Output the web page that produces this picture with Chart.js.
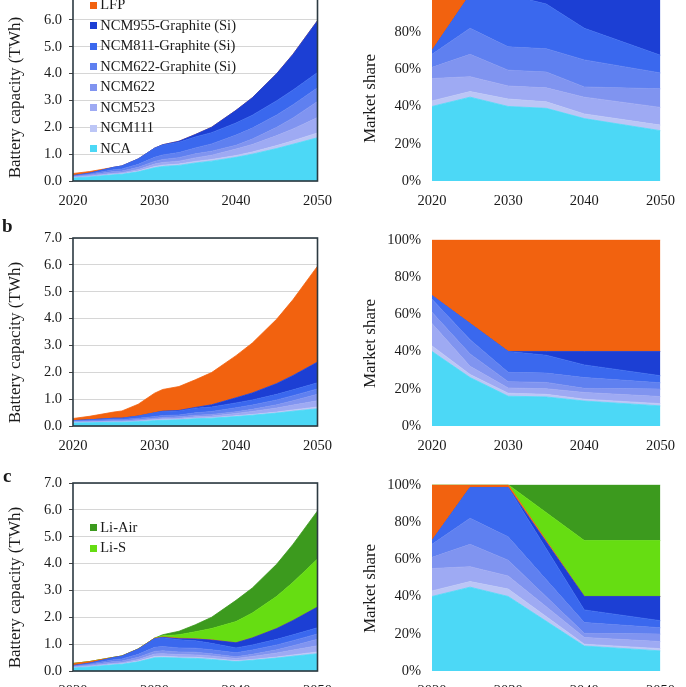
<!DOCTYPE html>
<html>
<head>
<meta charset="utf-8">
<script src="https://cdn.jsdelivr.net/npm/chart.js@4.4.1/dist/chart.umd.min.js"></script>
<style>
  body { margin: 0; background: #fff; }
  #fig { position: relative; width: 686px; height: 687px; overflow: hidden; font-family: "Liberation Serif", serif; }
  #fig canvas { position: absolute; }
  .tag { position: absolute; font-weight: bold; font-size: 19px; line-height: 1; color: #1a1a1a; }
</style>
</head>
<body>
<div id="fig">
  <canvas id="capA" width="343" height="244" style="left:0;top:-25px"></canvas>
  <canvas id="shareA" width="343" height="244" style="left:343px;top:-25px"></canvas>
  <canvas id="capB" width="343" height="244" style="left:0;top:220px"></canvas>
  <canvas id="shareB" width="343" height="244" style="left:343px;top:220px"></canvas>
  <canvas id="capC" width="343" height="244" style="left:0;top:465px"></canvas>
  <canvas id="shareC" width="343" height="244" style="left:343px;top:465px"></canvas>
  <div class="tag" style="left:2px;top:216px">b</div>
  <div class="tag" style="left:3px;top:466px">c</div>
</div>
<script>
// series names, bottom of the stack first
const chemistries = ['NCA', 'NCM111', 'NCM523', 'NCM622', 'NCM622-Graphite (Si)',
  'NCM811-Graphite (Si)', 'NCM955-Graphite (Si)', 'LFP', 'Li-S', 'Li-Air'];
const colors = ['#4cd8f6', '#bcc6f6', '#9eaaf3', '#8094f0', '#5f80f0',
  '#3a68ee', '#1c3fd4', '#f2620f', '#66dd12', '#3c9a1e'];

// battery capacity (TWh), left column
const years = [2020, 2022, 2025, 2026, 2028, 2030, 2031, 2033, 2035, 2037, 2040, 2042, 2045, 2047, 2050];

const capA_NCA    = [0.11, 0.15, 0.23, 0.25, 0.34, 0.49, 0.54, 0.58, 0.67, 0.74, 0.88, 1.00, 1.21, 1.37, 1.61];
const capA_NCM111 = [0.01, 0.01, 0.02, 0.02, 0.03, 0.05, 0.05, 0.05, 0.06, 0.06, 0.07, 0.08, 0.11, 0.13, 0.18];
const capA_NCM523 = [0.03, 0.04, 0.04, 0.04, 0.06, 0.09, 0.10, 0.11, 0.13, 0.16, 0.24, 0.28, 0.37, 0.44, 0.57];
const capA_NCM622 = [0.02, 0.03, 0.06, 0.06, 0.08, 0.10, 0.11, 0.13, 0.15, 0.15, 0.14, 0.20, 0.31, 0.41, 0.60];
const capA_G622   = [0.02, 0.03, 0.07, 0.08, 0.11, 0.15, 0.17, 0.19, 0.22, 0.27, 0.38, 0.41, 0.46, 0.49, 0.51];
const capA_G811   = [0.01, 0.03, 0.09, 0.11, 0.20, 0.34, 0.37, 0.38, 0.41, 0.42, 0.45, 0.48, 0.53, 0.55, 0.57];
const capA_G955   = [0, 0, 0, 0, 0, 0, 0.01, 0.04, 0.09, 0.20, 0.47, 0.65, 1.01, 1.33, 1.93];
const capA_LFP    = [0.08, 0.06, 0, 0, 0, 0, 0, 0, 0, 0, 0, 0, 0, 0, 0];

const capB_NCA    = [0.11, 0.12, 0.14, 0.14, 0.16, 0.20, 0.21, 0.23, 0.27, 0.29, 0.35, 0.40, 0.48, 0.55, 0.64];
const capB_NCM111 = [0.01, 0.01, 0.01, 0.01, 0.01, 0.02, 0.02, 0.02, 0.02, 0.02, 0.03, 0.03, 0.04, 0.05, 0.07];
const capB_NCM523 = [0.03, 0.03, 0.02, 0.02, 0.03, 0.03, 0.04, 0.04, 0.05, 0.06, 0.09, 0.11, 0.15, 0.18, 0.23];
const capB_NCM622 = [0.02, 0.02, 0.03, 0.03, 0.04, 0.04, 0.05, 0.05, 0.06, 0.06, 0.06, 0.08, 0.12, 0.16, 0.24];
const capB_G622   = [0.02, 0.03, 0.04, 0.04, 0.05, 0.06, 0.07, 0.07, 0.09, 0.11, 0.15, 0.16, 0.18, 0.19, 0.20];
const capB_G811   = [0.01, 0.02, 0.05, 0.05, 0.08, 0.14, 0.15, 0.15, 0.17, 0.17, 0.18, 0.19, 0.21, 0.22, 0.23];
const capB_G955   = [0, 0, 0, 0, 0, 0, 0.01, 0.02, 0.03, 0.08, 0.19, 0.26, 0.40, 0.53, 0.77];
const capB_LFP    = [0.08, 0.13, 0.23, 0.27, 0.44, 0.73, 0.81, 0.89, 1.03, 1.20, 1.57, 1.86, 2.40, 2.83, 3.57];

const capC_NCA    = [0.11, 0.15, 0.23, 0.25, 0.34, 0.49, 0.50, 0.48, 0.47, 0.43, 0.35, 0.40, 0.48, 0.55, 0.64];
const capC_NCM111 = [0.01, 0.01, 0.02, 0.02, 0.03, 0.05, 0.05, 0.04, 0.04, 0.04, 0.03, 0.03, 0.04, 0.05, 0.07];
const capC_NCM523 = [0.03, 0.04, 0.04, 0.04, 0.06, 0.09, 0.09, 0.09, 0.09, 0.09, 0.09, 0.11, 0.15, 0.18, 0.23];
const capC_NCM622 = [0.02, 0.03, 0.06, 0.06, 0.08, 0.10, 0.11, 0.10, 0.10, 0.08, 0.06, 0.08, 0.12, 0.16, 0.24];
const capC_G622   = [0.02, 0.03, 0.07, 0.08, 0.11, 0.15, 0.16, 0.15, 0.15, 0.15, 0.15, 0.16, 0.18, 0.19, 0.20];
const capC_G811   = [0.01, 0.03, 0.08, 0.10, 0.19, 0.32, 0.33, 0.30, 0.28, 0.24, 0.18, 0.19, 0.21, 0.22, 0.23];
const capC_G955   = [0, 0, 0, 0, 0, 0, 0.01, 0.04, 0.06, 0.12, 0.19, 0.26, 0.40, 0.53, 0.77];
const capC_LFP    = [0.08, 0.06, 0.01, 0.01, 0.01, 0.02, 0.02, 0.02, 0.01, 0.01, 0, 0, 0, 0, 0];
const capC_LiS    = [0, 0, 0, 0, 0, 0, 0.04, 0.13, 0.26, 0.42, 0.79, 0.93, 1.20, 1.42, 1.79];
const capC_LiAir  = [0, 0, 0, 0, 0, 0, 0.04, 0.13, 0.26, 0.42, 0.79, 0.93, 1.20, 1.42, 1.79];

// market share (%), right column
const shareYears = [2020, 2025, 2030, 2035, 2040, 2050];
const shareA_NCA    = [40, 45, 40, 39, 33.5, 27];
const shareA_NCM111 = [3, 3, 4, 3.5, 2.5, 3];
const shareA_NCM523 = [12, 8, 7, 7.5, 9, 9.5];
const shareA_NCM622 = [6, 12, 8.5, 8.5, 5.5, 10];
const shareA_G622   = [7, 14, 12.5, 12.5, 14.5, 8.5];
const shareA_G811   = [2, 18, 28, 24, 17, 9.5];
const shareA_G955   = [0, 0, 0, 5, 18, 32.5];
const shareA_LFP    = [30, 0, 0, 0, 0, 0];

const shareB_NCA    = [40, 26, 16, 15.6, 13.4, 10.8];
const shareB_NCM111 = [3, 1.65, 1.6, 1.4, 1, 1.2];
const shareB_NCM523 = [12, 4.4, 2.8, 3, 3.6, 3.8];
const shareB_NCM622 = [6, 6.6, 3.4, 3.4, 2.2, 4];
const shareB_G622   = [7, 7.7, 5, 5, 5.8, 3.4];
const shareB_G811   = [2, 8.65, 11.2, 9.6, 6.8, 3.8];
const shareB_G955   = [0, 0, 0, 2, 7.2, 13];
const shareB_LFP    = [30, 45, 60, 60, 60, 60];

const shareYearsC = [2020, 2025, 2030, 2040, 2050];
const shareC_NCA    = [40, 45, 40, 13.4, 10.8];
const shareC_NCM111 = [3, 3, 4, 1, 1.2];
const shareC_NCM523 = [12, 8, 7, 3.6, 3.8];
const shareC_NCM622 = [6, 12, 8.5, 2.2, 4];
const shareC_G622   = [7, 14, 12.5, 5.8, 3.4];
const shareC_G811   = [2, 16.5, 26.5, 6.8, 3.8];
const shareC_G955   = [0, 0, 0, 7.2, 13];
const shareC_LFP    = [30, 1.5, 1.5, 0, 0];
const shareC_LiS    = [0, 0, 0, 30, 30];
const shareC_LiAir  = [0, 0, 0, 30, 30];

Chart.defaults.font.family = '"Liberation Serif", "Times New Roman", serif';
Chart.defaults.color = '#1a1a1a';
Chart.defaults.animation = false;

// little square pushed to the right of a wider transparent image, used as legend marker
function swatch(color) {
  const c = document.createElement('canvas');
  c.width = 22; c.height = 7;
  const g = c.getContext('2d');
  g.fillStyle = color;
  g.fillRect(15, 0, 7, 7);
  return c;
}

function makeDatasets(xs, series) {
  return series.map((values, i) => ({
    label: chemistries[i],
    data: values.map((v, j) => ({ x: xs[j], y: v })),
    backgroundColor: colors[i],
    borderColor: colors[i],
    borderWidth: 0.8,
    pointRadius: 0,
    pointStyle: swatch(colors[i]),
    fill: i === 0 ? 'origin' : '-1',
    tension: 0,
  }));
}

const frame = {
  id: 'frame',
  afterDatasetsDraw(chart) {
    const { ctx, chartArea: a } = chart;
    ctx.save();
    ctx.strokeStyle = '#2c3a42';
    ctx.lineWidth = 1.6;
    ctx.strokeRect(a.left, a.top, a.right - a.left, a.bottom - a.top);
    ctx.restore();
  }
};

const xAxis = {
  type: 'linear', min: 2020, max: 2050,
  grid: { display: false, drawTicks: false },
  border: { display: false },
  ticks: { stepSize: 10, padding: 11, maxRotation: 0, autoSkip: false, font: { size: 14.5 }, callback: (v) => String(v) },
  afterFit: (s) => { s.height = 38; },
};

function capChart(id, series, legend) {
  const legendOpts = legend ? {
    display: true,
    position: 'chartArea',
    align: 'start',
    reverse: true,
    title: { display: true, text: ' ', font: { size: 10, lineHeight: 1 }, padding: { top: 0, bottom: legend.gap } },
    labels: {
      usePointStyle: true, pointStyleWidth: 14, padding: 6,
      font: { size: 14.5 }, color: '#1a1a1a',
      filter: (item) => legend.names.includes(item.text),
    },
  } : { display: false };

  new Chart(id, {
    type: 'line',
    data: { datasets: makeDatasets(years, series) },
    options: {
      responsive: false,
      devicePixelRatio: 1,
      layout: { padding: { top: 18, right: 18, left: 0, bottom: 0 } },
      plugins: { legend: legendOpts, tooltip: { enabled: false } },
      scales: {
        x: xAxis,
        y: {
          stacked: true, min: 0, max: 7,
          grid: { color: '#d6d6d6', tickLength: 4, tickColor: '#444' },
          border: { display: false },
          ticks: { stepSize: 1, padding: 7, font: { size: 14.5 }, callback: (v) => v.toFixed(1) },
          title: { display: true, text: 'Battery capacity (TWh)\u00a0\u00a0\u00a0\u00a0\u00a0', font: { size: 17 }, padding: { top: 5, bottom: 0 } },
          afterFit: (s) => { s.width = 73; },
        },
      },
    },
    plugins: [frame],
  });
}

function shareChart(id, xs, series) {
  new Chart(id, {
    type: 'line',
    data: { datasets: makeDatasets(xs, series) },
    options: {
      responsive: false,
      devicePixelRatio: 1,
      layout: { padding: { top: 18, right: 17, left: 0, bottom: 0 } },
      plugins: { legend: { display: false }, tooltip: { enabled: false } },
      scales: {
        x: xAxis,
        y: {
          stacked: true, min: 0, max: 100,
          grid: { display: false, drawTicks: false },
          border: { display: false },
          ticks: { stepSize: 20, padding: 11, font: { size: 14.5 }, callback: (v) => v + '%' },
          title: { display: true, text: 'Market share\u00a0\u00a0\u00a0\u00a0\u00a0', font: { size: 17 }, padding: { top: 17, bottom: 0 } },
          afterFit: (s) => { s.width = 89; },
        },
      },
    },
  });
}

const ncmNames = chemistries.slice(0, 8);

capChart('capA', [capA_NCA, capA_NCM111, capA_NCM523, capA_NCM622, capA_G622, capA_G811, capA_G955, capA_LFP],
  { names: ncmNames, gap: 7 });
capChart('capB', [capB_NCA, capB_NCM111, capB_NCM523, capB_NCM622, capB_G622, capB_G811, capB_G955, capB_LFP], null);
capChart('capC', [capC_NCA, capC_NCM111, capC_NCM523, capC_NCM622, capC_G622, capC_G811, capC_G955, capC_LFP, capC_LiS, capC_LiAir],
  { names: ['Li-S', 'Li-Air'], gap: 39.5 });

shareChart('shareA', shareYears, [shareA_NCA, shareA_NCM111, shareA_NCM523, shareA_NCM622, shareA_G622, shareA_G811, shareA_G955, shareA_LFP]);
shareChart('shareB', shareYears, [shareB_NCA, shareB_NCM111, shareB_NCM523, shareB_NCM622, shareB_G622, shareB_G811, shareB_G955, shareB_LFP]);
shareChart('shareC', shareYearsC, [shareC_NCA, shareC_NCM111, shareC_NCM523, shareC_NCM622, shareC_G622, shareC_G811, shareC_G955, shareC_LFP, shareC_LiS, shareC_LiAir]);
</script>
</body>
</html>
